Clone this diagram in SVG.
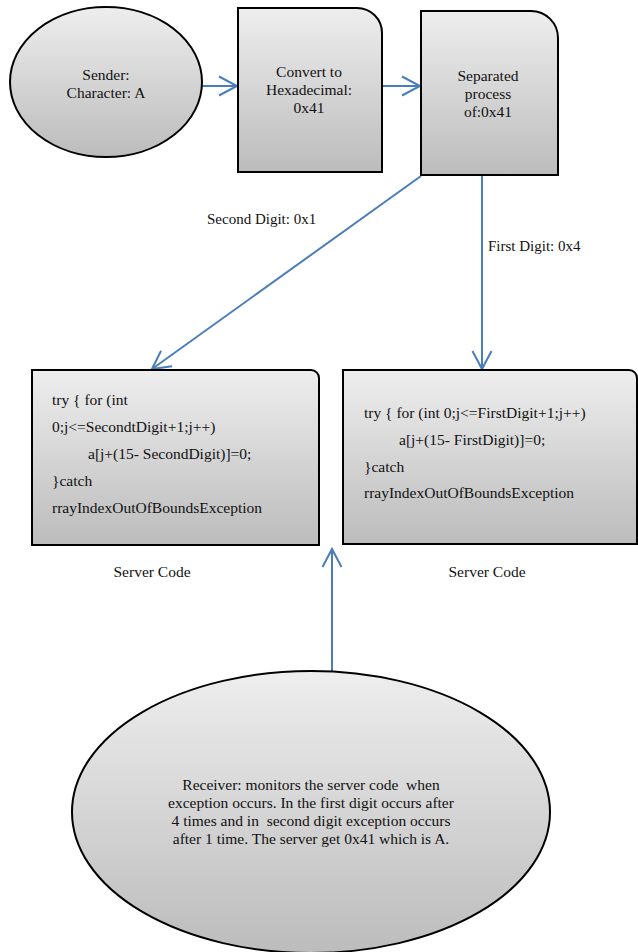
<svg xmlns="http://www.w3.org/2000/svg" width="638" height="952" viewBox="0 0 638 952" font-family="Liberation Serif, serif">
  <style>
    .lbl { font-size: 15.5px; text-anchor: middle; fill: #111; }
    .code { font-size: 15.5px; fill: #111; }
    .edge { font-size: 15px; fill: #111; }
    .shape { stroke: #000; stroke-width: 2; fill: url(#grey); }
    .conn { stroke: #4a7ebb; stroke-width: 2; fill: none; marker-end: url(#open); }
  </style>
  <defs>
    <linearGradient id="grey" x1="0" y1="0" x2="0" y2="1">
      <stop offset="0" stop-color="#eeeeee"/>
      <stop offset="1" stop-color="#bcbcbc"/>
    </linearGradient>
    <marker id="open" markerUnits="userSpaceOnUse" markerWidth="24" markerHeight="24" viewBox="-20 -12 24 24" refX="0" refY="0" orient="auto" overflow="visible">
      <path d="M-18,-9.5 L0,0 L-18,9.5" fill="none" stroke="#4a7ebb" stroke-width="2"/>
    </marker>
  </defs>

  <!-- connectors -->
  <g id="connectors">
    <line class="conn" x1="202" y1="86" x2="237" y2="86"/>
    <line class="conn" x1="382" y1="86" x2="420" y2="86"/>
    <line class="conn" x1="421" y1="176" x2="152" y2="369"/>
    <line class="conn" x1="482" y1="175" x2="482" y2="369"/>
    <line class="conn" x1="332" y1="671" x2="332" y2="549"/>
    <text class="edge" x="207" y="224" font-family="Liberation Serif, serif">Second Digit: 0x1</text>
    <text class="edge" x="488" y="251" font-family="Liberation Serif, serif">First Digit: 0x4</text>
  </g>

  <!-- sender -->
  <g id="sender" font-family="Liberation Serif, serif">
    <ellipse class="shape" cx="106" cy="82" rx="96" ry="75"/>
    <text class="lbl" x="106" y="80">Sender:</text>
    <text class="lbl" x="106" y="98">Character: A</text>
  </g>

  <!-- hex conversion -->
  <g id="convert" font-family="Liberation Serif, serif">
    <path class="shape" d="M238,8 H357 A25,25 0 0 1 382,33 V172 H238 Z"/>
    <text class="lbl" x="309" y="77">Convert to</text>
    <text class="lbl" x="309" y="95">Hexadecimal:</text>
    <text class="lbl" x="309" y="113">0x41</text>
  </g>

  <!-- digit separation -->
  <g id="separate" font-family="Liberation Serif, serif">
    <path class="shape" d="M421,11 H531 A27,27 0 0 1 558,38 V175 H421 Z"/>
    <text class="lbl" x="488" y="81">Separated</text>
    <text class="lbl" x="488" y="99">process</text>
    <text class="lbl" x="488" y="117">of:0x41</text>
  </g>

  <!-- second digit server code -->
  <g id="server-second" font-family="Liberation Serif, serif">
    <path class="shape" d="M32,370 H311 A8,8 0 0 1 319,378 V545 H32 Z"/>
    <text class="code" x="52" y="405">try { for (int</text>
    <text class="code" x="52" y="432">0;j&lt;=SecondtDigit+1;j++)</text>
    <text class="code" x="88" y="459">a[j+(15- SecondDigit)]=0;</text>
    <text class="code" x="52" y="486">}catch</text>
    <text class="code" x="52" y="513">rrayIndexOutOfBoundsException</text>
    <text class="lbl" x="152" y="577">Server Code</text>
  </g>

  <!-- first digit server code -->
  <g id="server-first" font-family="Liberation Serif, serif">
    <path class="shape" d="M343,370 H629 A8,8 0 0 1 637,378 V544 H343 Z"/>
    <text class="code" x="364" y="418">try { for (int 0;j&lt;=FirstDigit+1;j++)</text>
    <text class="code" x="399" y="445">a[j+(15- FirstDigit)]=0;</text>
    <text class="code" x="364" y="472">}catch</text>
    <text class="code" x="364" y="498">rrayIndexOutOfBoundsException</text>
    <text class="lbl" x="487" y="577">Server Code</text>
  </g>

  <!-- receiver -->
  <g id="receiver" font-family="Liberation Serif, serif">
    <ellipse class="shape" cx="311" cy="812" rx="239" ry="141"/>
    <text class="lbl" x="311" y="790" xml:space="preserve">Receiver: monitors the server code  when</text>
    <text class="lbl" x="311" y="808">exception occurs. In the first digit occurs after</text>
    <text class="lbl" x="311" y="826" xml:space="preserve">4 times and in  second digit exception occurs</text>
    <text class="lbl" x="311" y="844">after 1 time. The server get 0x41 which is A.</text>
  </g>
</svg>
